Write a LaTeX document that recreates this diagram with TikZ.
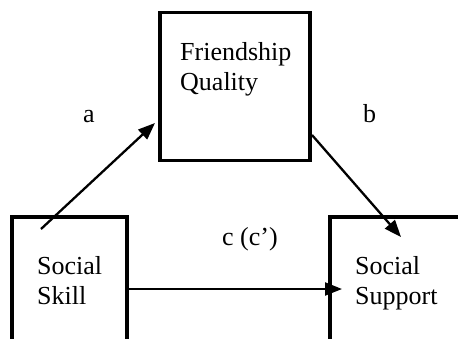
\documentclass[tikz,border=0pt]{standalone}
\usepackage{fontspec}
\setmainfont{Liberation Serif}
\usetikzlibrary{arrows.meta}
\tikzset{
  boxnode/.style={draw, line width=3.3pt, inner sep=0pt, outer sep=0pt, anchor=north west},
  txt/.style={font=\fontsize{26}{30}\selectfont, align=left, inner sep=0pt, anchor=north west},
  lbl/.style={font=\fontsize{26}{30}\selectfont, inner sep=0pt, anchor=base west},
  arr/.style={line width=2.3pt, -{Triangle[length=17pt,width=13pt]}}
}
\begin{document}
\begin{tikzpicture}[x=1pt,y=-1pt]
\useasboundingbox[fill=white] (0,0) rectangle (458,338);
\clip (0,0) rectangle (458,338);
\node[boxnode, minimum width=150pt, minimum height=148pt] (fq) at (160,12.5) {};
\node[boxnode, minimum width=115pt, minimum height=160pt] (ss) at (12,217) {};
\node[boxnode, minimum width=160pt, minimum height=160pt] (sp) at (330,217) {};
\node[txt] (fqt) at (180,42) {Friendship\\Quality};
\node[txt] (sst) at (37,256) {Social\\Skill};
\node[txt] (spt) at (355,256) {Social\\Support};
\node[lbl] (la) at (83,122) {a};
\node[lbl] (lb) at (363,122) {b};
\node[lbl] (lc) at (222,245) {c (c’)};
\coordinate (a1) at (41,229);
\coordinate (a2) at (155,123);
\coordinate (b1) at (312,135);
\coordinate (b2) at (401,237);
\coordinate (c1) at (127,289);
\coordinate (c2) at (342,289);
\draw[arr] (a1) -- (a2);
\draw[arr] (b1) -- (b2);
\draw[arr] (c1) -- (c2);
\end{tikzpicture}
\end{document}
